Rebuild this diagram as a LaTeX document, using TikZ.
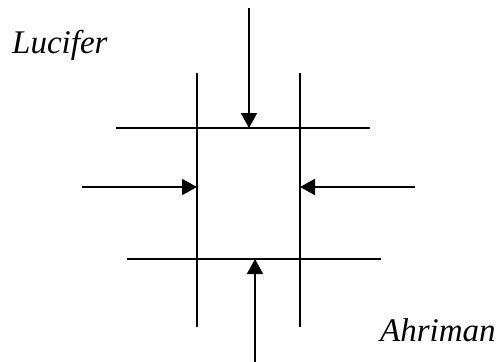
\documentclass[tikz,border=0pt]{standalone}
\usepackage{fontspec}
\setmainfont{Liberation Serif}
\usetikzlibrary{arrows.meta}
\tikzset{
  bar/.style    ={line width=2pt,black},
  force/.style  ={line width=2pt,black,-{Triangle[length=15pt,width=16pt]}},
  spirit/.style ={font=\fontsize{33}{33}\selectfont\itshape,inner sep=0pt,anchor=base west},
}
\begin{document}
\begin{tikzpicture}[x=1pt,y=-1pt]
  \useasboundingbox (0,0) rectangle (499,362);
  % the four bars of the square
  \coordinate (lt) at (197,73);  \coordinate (lb) at (197,327);
  \coordinate (rt) at (300,73);  \coordinate (rb) at (300,327);
  \coordinate (tl) at (116,128); \coordinate (tr) at (370,128);
  \coordinate (bl) at (127,259); \coordinate (br) at (381,259);
  \draw[bar] (lt)--(lb);
  \draw[bar] (rt)--(rb);
  \draw[bar] (tl)--(tr);
  \draw[bar] (bl)--(br);
  % forces pressing in
  \coordinate (n0) at (249,8);   \coordinate (n1) at (249,128);
  \coordinate (s0) at (255,362); \coordinate (s1) at (255,259);
  \coordinate (w0) at (82,187);  \coordinate (w1) at (197,187);
  \coordinate (e0) at (415,187); \coordinate (e1) at (300,187);
  \draw[force] (n0)--(n1);
  \draw[force] (s0)--(s1);
  \draw[force] (w0)--(w1);
  \draw[force] (e0)--(e1);
  \node[spirit] (luc) at (12,53) {Lucifer};
  \node[spirit] (ahr) at (380,341) {Ahriman};
\end{tikzpicture}
\end{document}
